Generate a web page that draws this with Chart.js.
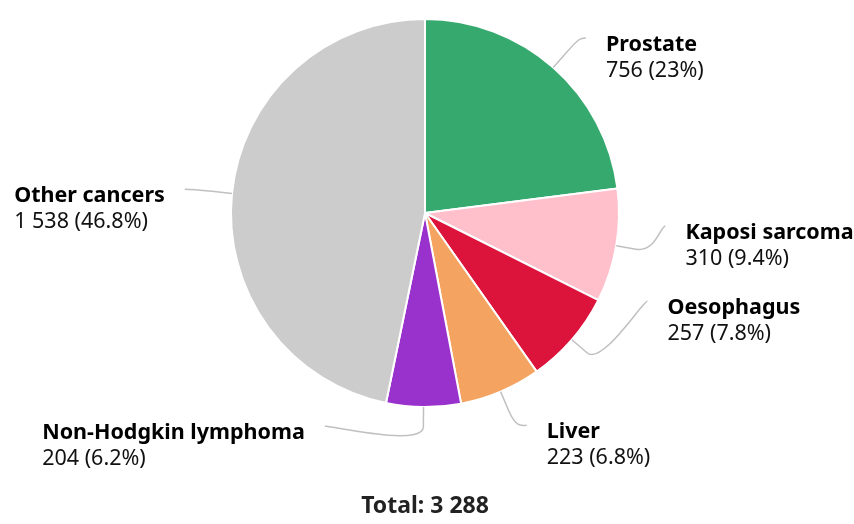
<!DOCTYPE html>
<html>
<head>
<meta charset="utf-8">
<script src="https://cdn.jsdelivr.net/npm/chart.js@4"></script>
<style>
  html, body { margin: 0; padding: 0; background: #fff; }
  #wrap { width: 854px; height: 524px; }
</style>
</head>
<body>
<div id="wrap"><canvas id="cancerChart" width="854" height="524"></canvas></div>
<script>
// data
const categories = ['Prostate', 'Kaposi sarcoma', 'Oesophagus', 'Liver', 'Non-Hodgkin lymphoma', 'Other cancers'];
const cases = [756, 310, 257, 223, 204, 1538];
const sliceColors = ['#36a96e', '#ffc0cb', '#dc143c', '#f4a460', '#9932cc', '#cccccc'];

// label nudges (px) from the natural spot, to keep labels apart
const labelShiftY = [-7, -25, -58, 6, -11, -1];
const labelShiftX = [-6, 2, 2, 0, 0, -2];

const total = cases.reduce((a, b) => a + b, 0);
const fmt = n => String(n).replace(/\B(?=(\d{3})+(?!\d))/g, ' ');
const pct = v => {
  let s = (v / total * 100).toFixed(1);
  if (s.endsWith('.0')) s = s.slice(0, -2);
  return s + '%';
};

const FONT = '"Noto Sans", "Open Sans", sans-serif';
const SIZE = 21.5;

// draws the outside labels with soft connectors, plus the total line
const outsideLabels = {
  id: 'outsideLabels',
  afterDatasetsDraw(chart) {
    const ctx = chart.ctx;
    const meta = chart.getDatasetMeta(0);
    meta.data.forEach((arc, i) => {
      const { x: cx, y: cy, startAngle, endAngle, outerRadius: r } = arc;
      const a = (startAngle + endAngle) / 2;
      const right = Math.cos(a) >= 0;
      const touch = { x: cx + r * Math.cos(a), y: cy + r * Math.sin(a) };
      const brk = { x: cx + (r + 20) * Math.cos(a), y: cy + (r + 20) * Math.sin(a) };
      const ly = cy + (r + 30) * Math.sin(a) + labelShiftY[i];
      const R = r + 45;
      const dy = Math.max(-R, Math.min(R, ly + 4 - cy));
      const lx = cx + (right ? 1 : -1) * Math.sqrt(R * R - dy * dy) + labelShiftX[i];

      ctx.save();
      ctx.strokeStyle = '#c0c0c0';
      ctx.lineWidth = 1.5;
      ctx.beginPath();
      ctx.moveTo(lx, ly);
      ctx.bezierCurveTo(lx + (right ? -5 : 5), ly, 2 * brk.x - touch.x, 2 * brk.y - touch.y, brk.x, brk.y);
      ctx.lineTo(touch.x, touch.y);
      ctx.stroke();

      const title = categories[i];
      const value = fmt(cases[i]) + ' (' + pct(cases[i]) + ')';
      ctx.textAlign = 'left';
      ctx.textBaseline = 'alphabetic';
      ctx.font = 'bold ' + SIZE + 'px ' + FONT;
      const wT = ctx.measureText(title).width;
      ctx.font = SIZE + 'px ' + FONT;
      const wV = ctx.measureText(value).width;
      const tx = right ? lx + 20 : lx - 20 - Math.max(wT, wV);
      ctx.fillStyle = '#000';
      ctx.font = 'bold ' + SIZE + 'px ' + FONT;
      ctx.fillText(title, tx, ly + 13);
      ctx.font = SIZE + 'px ' + FONT;
      ctx.fillStyle = '#111';
      ctx.fillText(value, tx, ly + 39);
      ctx.restore();
    });

    ctx.save();
    ctx.font = 'bold 23px ' + FONT;
    ctx.fillStyle = '#222';
    ctx.textAlign = 'center';
    ctx.fillText('Total: ' + fmt(total), chart.width / 2 - 2, 513);
    ctx.restore();
  }
};

new Chart(document.getElementById('cancerChart'), {
  type: 'pie',
  data: {
    labels: categories,
    datasets: [{
      data: cases,
      backgroundColor: sliceColors,
      borderColor: '#ffffff',
      borderWidth: 2
    }]
  },
  options: {
    responsive: false,
    animation: false,
    layout: { padding: { top: 18, bottom: 116, left: 230, right: 234 } },
    plugins: {
      legend: { display: false },
      tooltip: { enabled: false },
      title: { display: false }
    }
  },
  plugins: [outsideLabels]
});
</script>
</body>
</html>
